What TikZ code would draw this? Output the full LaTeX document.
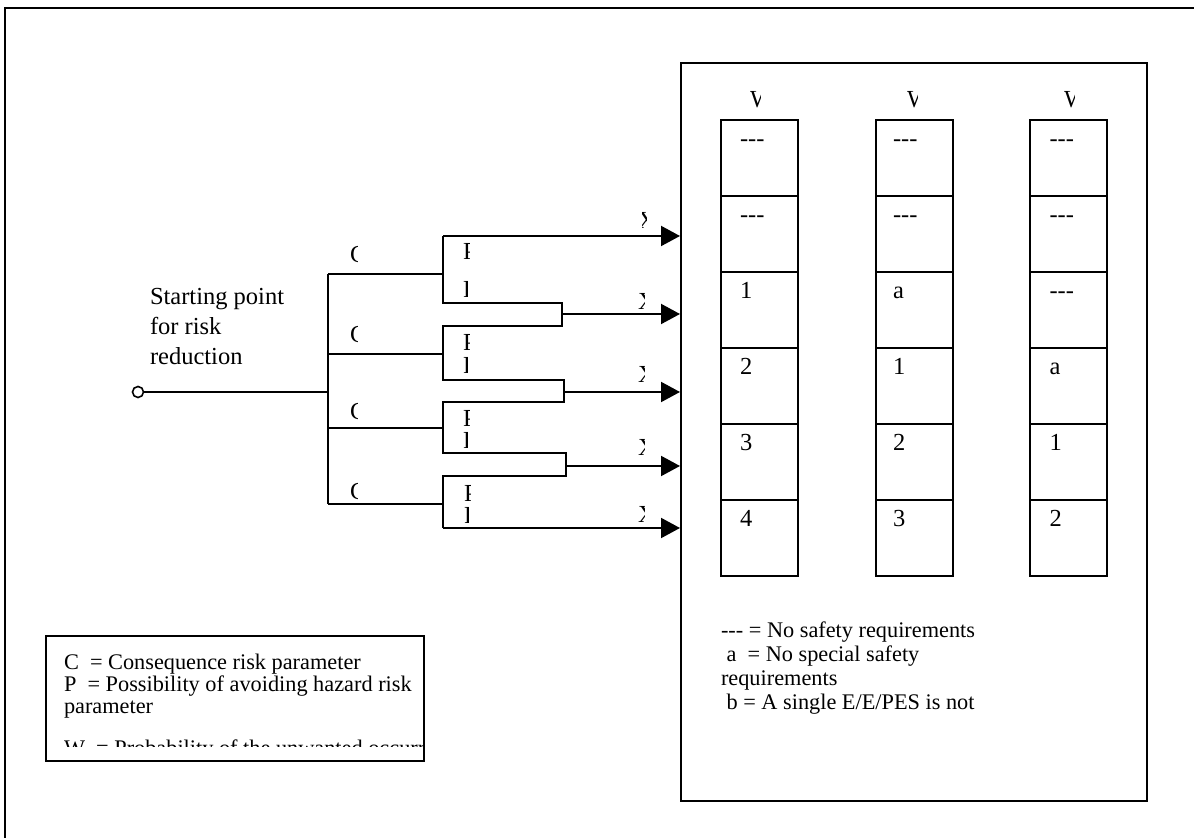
\documentclass[tikz,border=0pt]{standalone}
\usepackage{fontspec}
\setmainfont{Liberation Serif}[Ligatures=TeXOff]
\usetikzlibrary{arrows.meta}
\newcommand\cliplab[6]{%
  \begin{scope}
    \clip (#4,#3-22) rectangle (#5,#3+5);
    \node[txt, text depth=0pt] (#1) at (#2,#3) {#6};
  \end{scope}}
\begin{document}
\begin{tikzpicture}[x=0.5pt,y=-0.5pt, line width=1pt,
  txt/.style={anchor=base west, inner sep=0pt},
  cell/.style={draw, minimum width=38.5pt, minimum height=38pt, inner sep=0pt},
  ctext/.style={txt, yshift=-14pt, xshift=#1},
  arr/.style={-{Triangle[length=9.5pt,width=10pt]}},
  legend/.style={txt, font=\fontsize{11.15}{13}\selectfont},
  font=\fontsize{12.25}{14.5}\selectfont]
\useasboundingbox (0,0) rectangle (1194,838);
% outer frame
\coordinate (f1) at (5,838); \coordinate (f2) at (5,8); \coordinate (f3) at (1194,8);
\draw[line width=1.2pt] (f1) -- (f2) -- (f3);
% right box
\node[draw, anchor=north west, minimum width=233pt, minimum height=369pt, inner sep=0pt] (rbox) at (680,62) {};
% columns
\foreach \t [count=\r] in {---,---,1,2,3,4}
  \node[cell, label={[ctext=9.5pt]north west:\t}] (a\r) at (759.5,{82+76*\r}) {};
\foreach \t [count=\r] in {---,---,a,1,2,3}
  \node[cell, label={[ctext=8.75pt]north west:\t}] (b\r) at (914,{82+76*\r}) {};
\foreach \t [count=\r] in {---,---,---,a,1,2}
  \node[cell, label={[ctext=10pt]north west:\t}] (c\r) at (1068,{82+76*\r}) {};
% column headers
\cliplab{w1}{749}{108}{740}{760}{W}
\cliplab{w2}{906}{108}{897}{917}{W}
\cliplab{w3}{1063}{108}{1054}{1074}{W}
% starting point
\node[draw, circle, minimum size=5.5pt, inner sep=0pt, line width=0.8pt] (s) at (138,392) {};
\node[txt] (st1) at (149,305) {Starting point};
\node[txt] (st2) at (149,335) {for risk};
\node[txt] (st3) at (149,365) {reduction};
% C branches
\coordinate (ct) at (328,274); \coordinate (cb) at (328,504);
\coordinate (g1) at (443,274); \coordinate (g2) at (443,354);
\coordinate (g3) at (443,428); \coordinate (g4) at (443,504);
\draw (s) -- (s -| ct);
\draw (ct) -- (cb);
\foreach \g in {g1,g2,g3,g4} \draw (\g -| ct) -- (\g);
% P brackets
\coordinate (p1) at (443,236);  \coordinate (p2) at (443,303);
\coordinate (p3) at (562,303);  \coordinate (p4) at (562,326);
\coordinate (p5) at (443,326);  \coordinate (p6) at (443,380);
\coordinate (p7) at (564,380);  \coordinate (p8) at (564,402);
\coordinate (p9) at (443,402);  \coordinate (p10) at (443,453);
\coordinate (p11) at (566,453); \coordinate (p12) at (566,476);
\coordinate (p13) at (443,476); \coordinate (p14) at (443,528);
\draw (p1) -- (p2) -- (p3) -- (p4) -- (p5) -- (p6) -- (p7) -- (p8) -- (p9)
  -- (p10) -- (p11) -- (p12) -- (p13) -- (p14);
\coordinate (m1) at (562,314); \coordinate (m2) at (564,392); \coordinate (m3) at (566,466);
\foreach \q in {p1,m1,m2,m3,p14} \draw[arr] (\q) -- (\q -| rbox.west);
% clipped labels
\cliplab{cl1}{349}{263}{340}{357}{C}
\cliplab{cl2}{349}{343}{340}{357}{C}
\cliplab{cl3}{349}{420}{340}{357}{C}
\cliplab{cl4}{349}{500}{340}{357}{C}
\cliplab{pa1}{462}{260}{455}{469}{P}
\cliplab{pb1}{462}{298}{455}{467.5}{P}
\cliplab{pa2}{462}{351}{455}{469}{P}
\cliplab{pb2}{462}{374}{455}{467.5}{P}
\cliplab{pa3}{462}{427}{455}{469}{P}
\cliplab{pb3}{462}{449}{455}{467.5}{P}
\cliplab{pa4}{463}{502}{455}{470}{P}
\cliplab{pb4}{463}{524}{455}{468.5}{P}
\cliplab{x1}{637}{229}{642}{646}{X}
\cliplab{x2}{637}{310}{630}{644}{X}
\cliplab{x3}{637}{383}{630}{644}{X}
\cliplab{x4}{637}{456}{630}{644}{X}
\cliplab{x5}{637}{523}{630}{644}{X}
% left legend
\node[draw, anchor=north west, minimum width=189pt, minimum height=62.5pt, inner sep=0pt] (lbox) at (45,635) {};
\begin{scope}
  \clip (45,635) rectangle (423,747);
  \node[legend] (l1) at (63,670) {C\ \ = Consequence risk parameter};
  \node[legend] (l2) at (63,692) {P\ \ = Possibility of avoiding hazard risk};
  \node[legend] (l3) at (63,714) {parameter};
  \node[legend] (l4) at (63,756) {W\ \ = Probability of the unwanted occurrence};
\end{scope}
% right legend
\node[legend] (r1) at (720,638) {--- = No safety requirements};
\node[legend] (r2) at (720,662) {\ a\ \ = No special safety};
\node[legend] (r3) at (720,686) {requirements};
\node[legend] (r4) at (720,710) {\ b = A single E/E/PES is not};
\end{tikzpicture}
\end{document}
